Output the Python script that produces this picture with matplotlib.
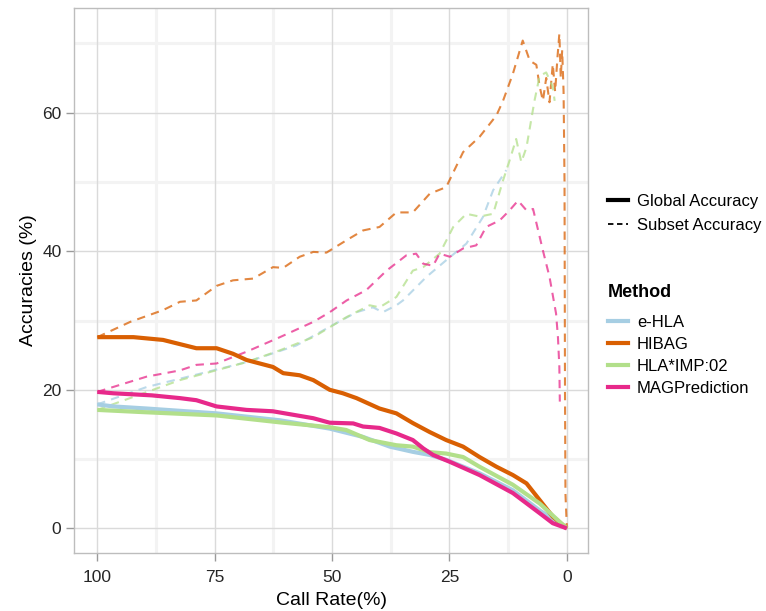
import numpy as np
import matplotlib.pyplot as plt
from matplotlib.lines import Line2D

plt.rcParams['font.family'] = ['Liberation Sans', 'DejaVu Sans']

methods = ["e-HLA", "HIBAG", "HLA*IMP:02", "MAGPrediction"]
colors = ["#a6cee3", "#d95f02", "#b2df8a", "#e7298a"]

# Global accuracy (solid lines)
ehla_glob_x = [100, 96.6, 89.5, 74.6, 61.1, 50.5, 43.4, 37.7, 32.8, 29.2, 25.7, 18.6, 11.5, 5.8, 0]
ehla_glob_y = [17.9, 17.6, 17.3, 16.6, 15.6, 14.4, 13.2, 11.8, 11.05, 10.6, 9.9, 7.95, 5.5, 2.6, 0]

hibag_glob_x = [100, 92.3, 86, 78.9, 74.6, 71.1, 68.2, 62.6, 60.4, 56.9, 54, 50.5, 47.7, 44.8,
                39.9, 36.3, 32.8, 29.2, 25.7, 22.1, 18.6, 15.0, 11.5, 8.6, 5.8, 3.0, 0]
hibag_glob_y = [27.6, 27.6, 27.2, 26.0, 26.0, 25.2, 24.3, 23.3, 22.4, 22.1, 21.4, 20.0, 19.5, 18.8,
                17.3, 16.6, 15.2, 13.9, 12.75, 11.8, 10.3, 8.9, 7.7, 6.5, 4.1, 1.7, 0]

imp_glob_x = [100, 90.9, 74.6, 61.1, 50.5, 47, 42, 36.3, 32.8, 29.2, 25.7, 22.1, 18.6, 11.5, 5.8, 0]
imp_glob_y = [17.1, 16.8, 16.3, 15.3, 14.6, 14.2, 12.75, 12.0, 11.8, 11.0, 10.8, 10.3, 8.9, 6.3, 3.6, 0]

mag_glob_x = [100, 96.6, 88.4, 82.4, 78.9, 74.6, 68.2, 62.6, 58.3, 54, 50.5, 45.5, 43.4, 39.9,
              36.3, 32.8, 30.6, 28.5, 24.9, 18.6, 11.5, 5.8, 3.0, 0]
mag_glob_y = [19.7, 19.5, 19.2, 18.8, 18.5, 17.6, 17.1, 16.9, 16.4, 15.9, 15.25, 15.15, 14.7, 14.5,
              13.7, 12.75, 11.55, 10.6, 9.6, 7.7, 5.1, 2.2, 0.75, 0]

# Subset accuracy (dashed lines)
ehla_sub_x = [100, 89.5, 75.3, 68.2, 57.6, 50.5, 44.8, 41.3, 39.2, 36.3, 34.9, 29.9, 25.7, 21.4, 17.9, 15.7, 12.9]
ehla_sub_y = [17.9, 20.4, 22.8, 24.0, 26.4, 29.1, 31.2, 31.9, 31.2, 32.2, 32.9, 36.3, 38.7, 41.1, 44.9, 48.8, 51.7]

hibag_sub_x = [100, 93, 86, 82.4, 78.9, 74.6, 71.1, 66.8, 62.6, 60.4, 56.9, 54, 51.2, 46.9, 43.4,
               39.9, 36.3, 32.8, 29.2, 25.7, 22.1, 18.6, 15.0, 13.6, 11.5, 9.4, 7.9, 6.5, 5.8, 5.1,
               4.4, 3.7, 3.0, 2.5, 2.0, 1.6, 1.3, 1.0, 0.7, 0.5, 0.4, 0.3, 0]
hibag_sub_y = [27.6, 29.8, 31.5, 32.7, 32.9, 35.0, 35.8, 36.05, 37.7, 37.6, 39.2, 39.9, 39.8, 41.6, 43.0,
               43.5, 45.6, 45.6, 48.3, 49.25, 54.3, 56.5, 59.6, 61.7, 65.6, 70.4, 67.5, 66.9, 63.8, 61.7,
               65.0, 61.5, 67.0, 63.0, 68.0, 71.4, 65.0, 69.0, 63.0, 50.0, 20.0, 5.0, 0]

imp_sub_x = [100, 82.4, 68.2, 61.1, 54, 46.9, 42, 39.9, 36.3, 32.8, 30.6, 27.1, 24.2, 21.4, 18.6,
             15.7, 13.6, 12.2, 10.8, 9.7, 8.6, 6.9, 5.8, 4.4, 3.0, 2.6]
imp_sub_y = [17.1, 21.4, 24.0, 25.7, 27.6, 30.5, 32.2, 31.9, 33.4, 37.2, 37.7, 39.65, 43.5, 45.4, 45.0,
             45.4, 50.2, 53.1, 56.2, 52.85, 55.0, 61.7, 65.3, 65.8, 63.7, 61.7]

mag_sub_x = [100, 89.5, 82.4, 78.9, 74.6, 68.2, 61.1, 54, 50.5, 46.9, 42.7, 38.4, 34.2, 32.1, 30.6,
             28.5, 27.1, 24.9, 22.1, 19.3, 17.2, 14.3, 12.2, 10.4, 8.6, 7.2, 6.5, 5.1, 3.7, 2.3,
             1.9, 1.6, 1.5]
mag_sub_y = [19.7, 21.9, 22.8, 23.6, 23.8, 25.5, 27.6, 29.8, 31.2, 32.9, 34.4, 37.2, 39.4, 39.65, 38.2,
             37.9, 39.65, 39.2, 40.4, 40.85, 43.5, 44.45, 45.9, 47.3, 45.9, 46.1, 44.1, 40.1, 36.3, 31.0,
             27.6, 23.3, 18.3]

glob = [(ehla_glob_x, ehla_glob_y), (hibag_glob_x, hibag_glob_y),
        (imp_glob_x, imp_glob_y), (mag_glob_x, mag_glob_y)]
sub = [(ehla_sub_x, ehla_sub_y), (hibag_sub_x, hibag_sub_y),
       (imp_sub_x, imp_sub_y), (mag_sub_x, mag_sub_y)]

fig = plt.figure(figsize=(7.66, 6.11), dpi=100)
ax = fig.add_axes([74 / 766, 1 - 553 / 611, 514 / 766, 545 / 611])

# grid like ggplot theme_light
for v in [87.5, 62.5, 37.5, 12.5]:
    ax.axvline(v, color="#f3f3f3", lw=2.2, zorder=0)
for v in [10, 30, 50, 70]:
    ax.axhline(v, color="#f3f3f3", lw=2.2, zorder=0)
for v in [100, 75, 50, 25, 0]:
    ax.axvline(v, color="#dadada", lw=1.0, zorder=0)
for v in [0, 20, 40, 60]:
    ax.axhline(v, color="#dadada", lw=1.0, zorder=0)

for (x, y), c in zip(sub, colors):
    ax.plot(x, y, color=c, lw=1.5, ls=(0, (4, 3)), alpha=0.75, zorder=2)
for (x, y), c in zip(glob, colors):
    ax.plot(x, y, color=c, lw=3.0, solid_capstyle="butt", zorder=3)

ax.set_xlim(104.96, -4.5)
ax.set_ylim(-3.55, 75.1)
ax.set_xticks([100, 75, 50, 25, 0])
ax.set_yticks([0, 20, 40, 60])
ax.tick_params(length=6, width=1, color="#9a9a9a", labelsize=12.5, labelcolor="#262626")
ax.tick_params(axis="x", pad=6)
ax.tick_params(axis="y", pad=3)
for s in ax.spines.values():
    s.set_color("#bdbdbd")
    s.set_linewidth(1.0)

ax.set_xlabel("Call Rate(%)", fontsize=14, labelpad=5)
ax.set_ylabel("Accuracies (%)", fontsize=14, labelpad=4)

type_handles = [Line2D([], [], color="black", lw=3.0),
                Line2D([], [], color="black", lw=1.3, ls=(0, (3, 2)))]
leg1 = fig.legend(type_handles, ["Global Accuracy", "Subset Accuracy"],
                  loc="upper left", bbox_to_anchor=(601 / 766, 1 - 187 / 611),
                  frameon=False, fontsize=12, handlelength=1.2, handletextpad=0.55,
                  labelspacing=0.55, borderaxespad=0)

meth_handles = [Line2D([], [], color=c, lw=3.0) for c in colors]
leg2 = fig.legend(meth_handles, methods, title="Method",
                  loc="upper left", bbox_to_anchor=(601 / 766, 1 - 277 / 611),
                  frameon=False, fontsize=12, handlelength=1.2, handletextpad=0.55,
                  labelspacing=0.42, borderaxespad=0,
                  title_fontproperties={"weight": "bold", "size": 13})
leg2._legend_box.align = "left"
leg2._legend_box.sep = 10

fig.savefig("out.png", dpi=100)
